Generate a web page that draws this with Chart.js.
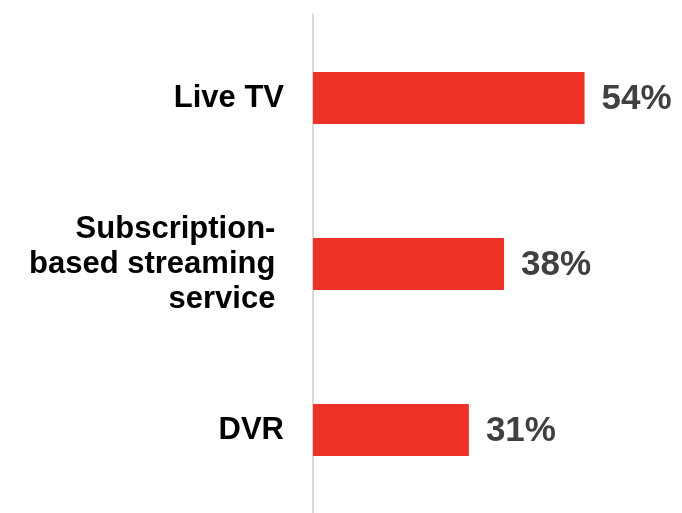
<!DOCTYPE html>
<html>
<head>
<meta charset="utf-8">
<script src="https://cdn.jsdelivr.net/npm/chart.js@4/dist/chart.umd.min.js"></script>
<style>
  html, body { margin: 0; padding: 0; background: #ffffff; }
  #wrap { width: 682px; height: 513px; position: relative; }
</style>
</head>
<body>
<div id="wrap"><canvas id="chart" width="682" height="513"></canvas></div>
<script>
// Share of viewers using each way of watching
const categories = [
  ['Live TV'],
  ['Subscription- ', 'based streaming ', 'service '],
  ['DVR']
];
const shareValues = [54, 38, 31];
const valueLabels = ['54%', '38%', '31%'];

const FONT = '"Liberation Sans", Arial, sans-serif';

// Writes the percentage just past the end of each bar
const valueLabelPlugin = {
  id: 'valueLabels',
  afterDatasetsDraw(chart) {
    const ctx = chart.ctx;
    const meta = chart.getDatasetMeta(0);
    ctx.save();
    ctx.font = 'bold 35px ' + FONT;
    ctx.fillStyle = '#404040';
    ctx.textAlign = 'left';
    ctx.textBaseline = 'middle';
    meta.data.forEach((bar, i) => {
      ctx.fillText(valueLabels[i], bar.x + 17, bar.y + 1);
    });
    ctx.restore();
  }
};

new Chart(document.getElementById('chart'), {
  type: 'bar',
  data: {
    labels: categories,
    datasets: [{
      data: shareValues,
      backgroundColor: '#EE3326',
      borderWidth: 0,
      barPercentage: 0.313,
      categoryPercentage: 1.0
    }]
  },
  options: {
    indexAxis: 'y',
    responsive: false,
    animation: false,
    devicePixelRatio: 1,
    layout: { padding: { top: 15, right: 17, bottom: 0, left: 0 } },
    plugins: {
      legend: { display: false },
      tooltip: { enabled: false }
    },
    scales: {
      x: {
        display: false,
        min: 0,
        max: 70
      },
      y: {
        afterFit(scale) {
          scale.width = 313;
          scale.paddingTop = 0;
          scale.paddingBottom = 0;
        },
        grid: { display: false, drawTicks: false },
        border: { display: true, color: '#d9d9d9', width: 2 },
        ticks: {
          padding: 29,
          color: '#000000',
          font: { family: FONT, size: 31, weight: 'bold', lineHeight: 1.13 }
        }
      }
    }
  },
  plugins: [valueLabelPlugin]
});
</script>
</body>
</html>
